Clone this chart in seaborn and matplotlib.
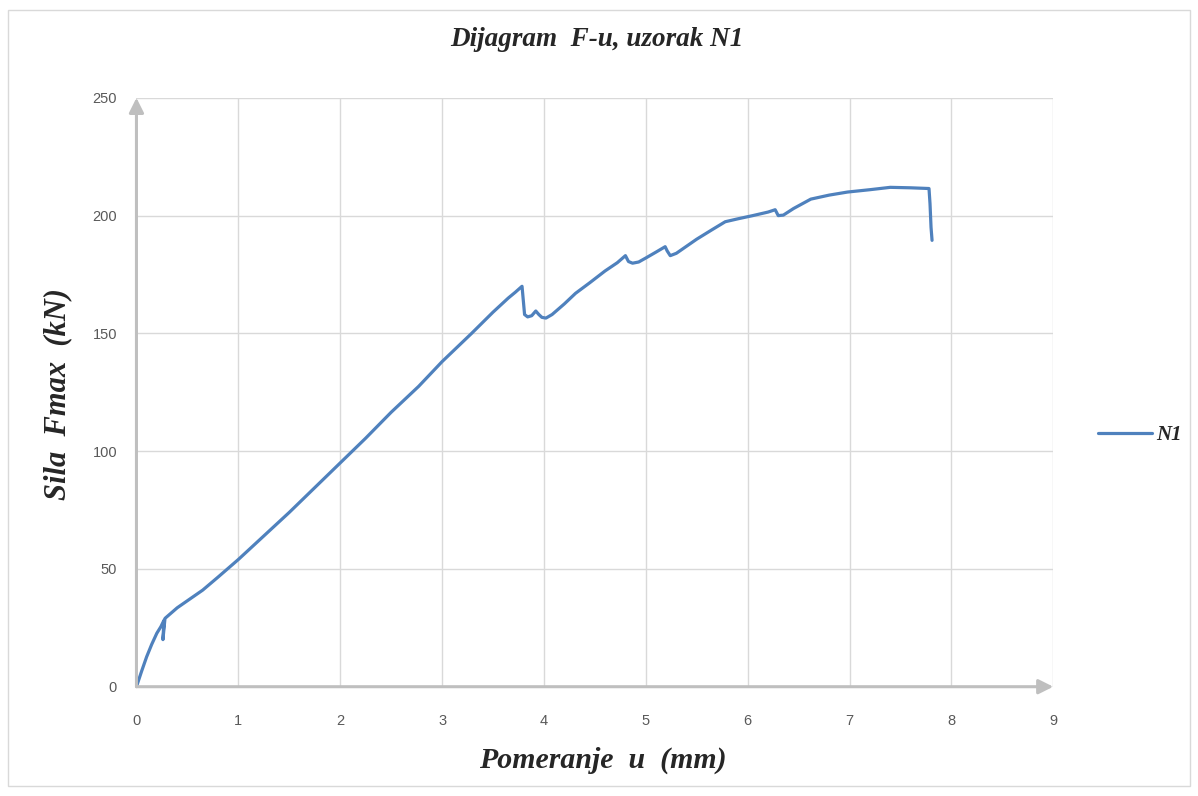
import matplotlib
matplotlib.use("Agg")
import matplotlib.pyplot as plt
import seaborn as sns
import pandas as pd
from matplotlib.patches import Rectangle

# displacement u (mm) and force F (kN)
u = [0, 0.05, 0.10, 0.15, 0.20, 0.24, 0.27, 0.26, 0.28, 0.32, 0.40, 0.50, 0.65,
     0.80, 1.0, 1.25, 1.5, 1.75, 2.0, 2.25, 2.5, 2.77, 3.0, 3.29, 3.5, 3.65,
     3.72, 3.785, 3.81, 3.84, 3.88, 3.92, 3.95, 3.98, 4.02, 4.08, 4.2, 4.31,
     4.45, 4.6, 4.72, 4.80, 4.83, 4.87, 4.93, 5.0, 5.1, 5.19, 5.21, 5.24, 5.3,
     5.4, 5.5, 5.65, 5.78, 5.9, 6.05, 6.2, 6.27, 6.30, 6.35, 6.45, 6.62, 6.8,
     6.98, 7.2, 7.4, 7.6, 7.78, 7.79, 7.80, 7.81]
F = [0, 6.5, 12.7, 18, 22.7, 25.5, 28.2, 20, 29, 30.5, 33.5, 36.5, 41,
     46.5, 54, 64, 74, 84.5, 95, 105.5, 116.5, 127.5, 138, 150, 159, 165,
     167.5, 170, 158, 157, 157.5, 159.5, 158, 156.8, 156.5, 158, 162.5, 167,
     171.5, 176.5, 180, 183, 180.5, 179.8, 180.3, 182, 184.5, 186.8, 185, 183, 184,
     187, 190, 194, 197.4, 198.6, 200, 201.5, 202.5, 200, 200.2, 203, 207, 208.7,
     210, 211, 212, 211.8, 211.5, 205, 195, 189.5]
series_name = "N1"
x_ticks = [0, 1, 2, 3, 4, 5, 6, 7, 8, 9]
y_ticks = [0, 50, 100, 150, 200, 250]

df = pd.DataFrame({"u": u, "F": F, "uzorak": series_name})

sns.set_style("white")
serif = ["Liberation Serif", "DejaVu Serif"]
plt.rcParams["font.family"] = ["Liberation Sans", "DejaVu Sans"]

fig = plt.figure(figsize=(11.98, 7.96), dpi=100)
ax = fig.add_axes([0.1139, 0.1373, 0.7653, 0.7398])

sns.lineplot(data=df, x="u", y="F", hue="uzorak", palette=["#4F81BD"],
             sort=False, estimator=None, linewidth=2.3, ax=ax)

ax.set_xlim(0, 9)
ax.set_ylim(0, 250)
ax.set_xticks(x_ticks)
ax.set_yticks(y_ticks)
ax.grid(True, color="#D9D9D9", linewidth=1)
ax.set_axisbelow(True)
for s in ax.spines.values():
    s.set_visible(False)
ax.tick_params(length=0, labelsize=10.5, labelcolor="#595959")
ax.tick_params(axis="x", pad=20)
ax.tick_params(axis="y", pad=14)

# axis lines with arrow heads
arrow = dict(arrowstyle="-|>", color="#BFBFBF", lw=2.2, mutation_scale=22,
             shrinkA=0, shrinkB=0)
ax.annotate("", xy=(9, 0), xytext=(0, 0), arrowprops=arrow, annotation_clip=False)
ax.annotate("", xy=(0, 250), xytext=(0, 0), arrowprops=arrow, annotation_clip=False)

ax.set_xlabel("")
ax.set_ylabel("")
fig.text(0.498, 0.950, "Dijagram  F-u, uzorak N1", ha="center", va="center",
         family=serif, weight="bold", style="italic", fontsize=19.5)
fig.text(0.503, 0.045, "Pomeranje  u  (mm)", ha="center", va="center",
         family=serif, weight="bold", style="italic", fontsize=21.5)
fig.text(0.048, 0.505, "Sila  Fmax  (kN)", ha="center", va="center", rotation=90,
         family=serif, weight="bold", style="italic", fontsize=22)

leg = ax.legend(loc="center left", bbox_to_anchor=(0.9165, 0.4535),
                bbox_transform=fig.transFigure, frameon=False, borderpad=0,
                borderaxespad=0, handlelength=2.6, handletextpad=0.2,
                prop={"family": serif, "weight": "bold", "style": "italic", "size": 15})

fig.patches.append(Rectangle((8 / 1198, 10 / 796), 1182 / 1198, 776 / 796,
                             transform=fig.transFigure, fill=False,
                             edgecolor="#D9D9D9", linewidth=1))

fig.savefig("out.png", dpi=100, facecolor="white")
